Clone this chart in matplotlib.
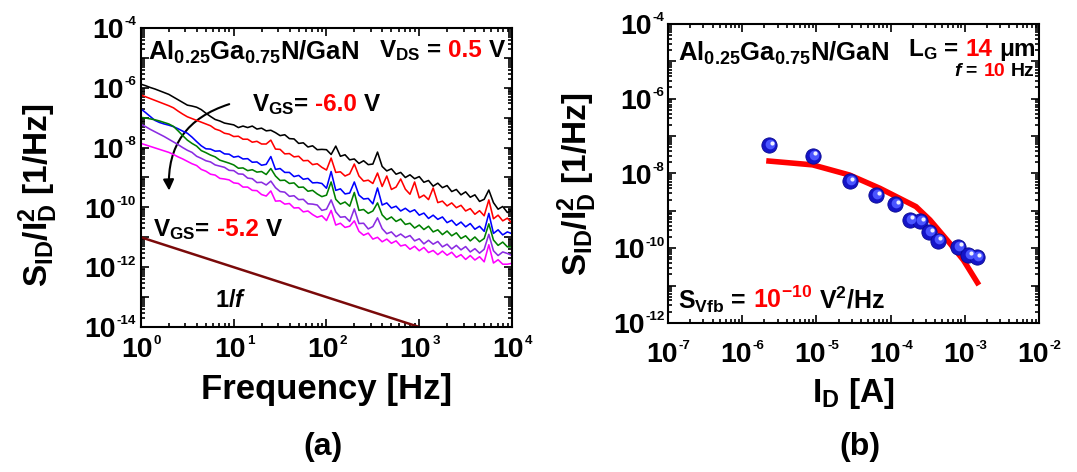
import numpy as np
import matplotlib
matplotlib.use('Agg')
import matplotlib.pyplot as plt
import matplotlib.transforms as mtransforms
from matplotlib.ticker import LogLocator, NullFormatter
from matplotlib.offsetbox import TextArea, HPacker, AnnotationBbox
from matplotlib.patches import FancyArrowPatch

plt.rcParams['font.family'] = 'Liberation Sans'
plt.rcParams['font.weight'] = 'bold'
plt.rcParams['mathtext.fontset'] = 'custom'
plt.rcParams['mathtext.rm'] = 'Liberation Sans:bold'
plt.rcParams['mathtext.bf'] = 'Liberation Sans:bold'
plt.rcParams['mathtext.it'] = 'Liberation Sans:italic:bold'
plt.rcParams['mathtext.default'] = 'regular'
plt.rcParams['axes.linewidth'] = 1.5

# ---- (a) noise spectra, log10 values ----
LOG_F = [0.00, 0.05, 0.10, 0.15, 0.20, 0.25, 0.30, 0.35, 0.40, 0.45,
         0.50, 0.55, 0.60, 0.65, 0.70, 0.75, 0.80, 0.85, 0.90, 0.95,
         1.00, 1.05, 1.10, 1.15, 1.20, 1.25, 1.30, 1.35, 1.40, 1.45,
         1.50, 1.55, 1.60, 1.65, 1.70, 1.75, 1.80, 1.85, 1.90, 1.95,
         2.00, 2.05, 2.10, 2.15, 2.20, 2.25, 2.30, 2.35, 2.40, 2.45,
         2.50, 2.55, 2.60, 2.65, 2.70, 2.75, 2.80, 2.85, 2.90, 2.95,
         3.00, 3.05, 3.10, 3.15, 3.20, 3.25, 3.30, 3.35, 3.40, 3.45,
         3.50, 3.55, 3.60, 3.65, 3.70, 3.75, 3.80, 3.85, 3.90, 3.95, 4.00]

LOG_S_60 = [-5.88, -5.93, -5.99, -6.04, -6.10, -6.16, -6.22, -6.31, -6.40, -6.49,
            -6.58, -6.61, -6.65, -6.73, -6.85, -6.96, -7.06, -7.11, -7.18, -7.21,
            -7.24, -7.33, -7.28, -7.33, -7.28, -7.38, -7.35, -7.44, -7.42, -7.50,
            -7.60, -7.57, -7.70, -7.71, -7.86, -7.84, -7.98, -7.94, -8.07, -8.06,
            -8.07, -8.23, -7.95, -8.29, -8.24, -8.41, -8.38, -8.53, -8.44, -8.57,
            -8.55, -8.15, -8.63, -8.78, -8.71, -8.89, -8.83, -9.00, -8.91, -9.04,
            -8.97, -9.16, -9.10, -9.29, -9.19, -9.34, -9.27, -9.47, -9.40, -9.58,
            -9.48, -9.66, -9.58, -9.80, -9.73, -9.42, -9.84, -10.06, -9.97, -10.17, -10.10]
LOG_S_2 = [-6.24, -6.30, -6.36, -6.42, -6.48, -6.54, -6.60, -6.67, -6.78, -6.88,
           -6.97, -7.03, -7.09, -7.15, -7.21, -7.27, -7.38, -7.43, -7.52, -7.55,
           -7.63, -7.62, -7.72, -7.72, -7.82, -7.79, -7.88, -7.88, -7.75, -8.05,
           -8.06, -8.21, -8.20, -8.31, -8.29, -8.44, -8.43, -8.57, -8.54, -8.66,
           -8.75, -8.35, -8.83, -8.81, -8.95, -8.88, -8.55, -8.95, -9.12, -9.09,
           -9.20, -8.85, -9.30, -8.95, -9.40, -9.32, -9.05, -9.39, -9.56, -9.15,
           -9.68, -9.59, -9.74, -9.35, -9.84, -9.79, -9.95, -9.85, -10.01, -9.93,
           -10.12, -10.04, -10.23, -10.11, -10.28, -9.75, -10.38, -10.26, -10.45, -10.36, -10.53]
LOG_S_3 = [-6.71, -6.83, -6.96, -7.09, -7.16, -7.21, -7.25, -7.30, -7.37, -7.45,
           -7.52, -7.65, -7.80, -7.94, -8.04, -8.05, -8.12, -8.11, -8.21, -8.22,
           -8.32, -8.29, -8.38, -8.37, -8.49, -8.48, -8.59, -8.56, -8.30, -8.73,
           -8.70, -8.83, -8.83, -8.97, -8.93, -9.06, -9.03, -9.18, -9.17, -9.20,
           -9.36, -8.80, -9.43, -9.38, -9.55, -9.52, -9.15, -9.59, -9.72, -9.70,
           -9.88, -9.35, -9.92, -9.85, -10.02, -9.96, -10.12, -10.03, -10.15, -10.08,
           -10.26, -10.19, -10.37, -10.26, -10.40, -10.32, -10.51, -10.43, -10.60, -10.49,
           -10.65, -10.54, -10.73, -10.63, -10.80, -10.20, -10.87, -10.75, -10.92, -10.82, -10.88]
LOG_S_4 = [-6.99, -7.01, -7.04, -7.07, -7.11, -7.16, -7.21, -7.29, -7.44, -7.60,
           -7.75, -7.86, -7.95, -8.10, -8.17, -8.25, -8.31, -8.42, -8.47, -8.52,
           -8.58, -8.69, -8.68, -8.77, -8.74, -8.82, -8.80, -8.90, -8.70, -8.95,
           -9.10, -9.09, -9.20, -9.18, -9.33, -9.32, -9.46, -9.43, -9.55, -9.64,
           -9.59, -9.15, -9.73, -9.89, -9.82, -9.96, -9.50, -10.10, -10.07, -10.20,
           -10.12, -9.85, -10.25, -10.41, -10.32, -10.47, -10.39, -10.57, -10.53, -10.69,
           -10.59, -10.74, -10.63, -10.82, -10.75, -10.91, -10.79, -10.95, -10.85, -11.04,
           -10.95, -11.12, -10.99, -11.15, -11.04, -10.55, -11.09, -11.27, -11.16, -11.32, -11.32]
LOG_S_5 = [-7.22, -7.30, -7.39, -7.47, -7.55, -7.63, -7.72, -7.81, -7.90, -8.00,
           -8.09, -8.16, -8.29, -8.36, -8.44, -8.48, -8.58, -8.62, -8.66, -8.76,
           -8.77, -8.88, -8.89, -9.02, -9.04, -9.17, -9.16, -9.25, -9.12, -9.34,
           -9.47, -9.49, -9.63, -9.61, -9.74, -9.73, -9.88, -9.89, -9.92, -10.10,
           -10.06, -9.75, -10.15, -10.33, -10.31, -10.47, -10.05, -10.54, -10.53, -10.72,
           -10.64, -10.35, -10.71, -10.88, -10.82, -10.98, -10.89, -11.01, -10.94, -11.12,
           -11.05, -11.22, -11.10, -11.23, -11.14, -11.32, -11.23, -11.39, -11.27, -11.42,
           -11.31, -11.49, -11.38, -11.53, -11.40, -10.90, -11.45, -11.61, -11.49, -11.54, -11.61]
LOG_S_52 = [-7.86, -7.91, -7.96, -8.01, -8.06, -8.11, -8.16, -8.23, -8.31, -8.38,
            -8.46, -8.54, -8.60, -8.73, -8.79, -8.89, -8.92, -9.03, -9.05, -9.08,
            -9.18, -9.20, -9.32, -9.32, -9.43, -9.44, -9.57, -9.62, -9.45, -9.79,
            -9.78, -9.89, -9.87, -10.02, -10.01, -10.15, -10.12, -10.24, -10.33, -10.28,
            -10.44, -10.10, -10.59, -10.53, -10.67, -10.63, -10.45, -10.80, -10.93, -10.86,
            -11.06, -11.00, -11.15, -11.06, -11.20, -11.12, -11.29, -11.25, -11.40, -11.30,
            -11.45, -11.34, -11.51, -11.44, -11.58, -11.46, -11.60, -11.50, -11.67, -11.58,
            -11.74, -11.61, -11.76, -11.65, -11.82, -11.25, -11.86, -11.75, -11.90, -11.90, -11.87]
SPECTRA = [LOG_S_60, LOG_S_2, LOG_S_3, LOG_S_4, LOG_S_5, LOG_S_52]
SPECTRA_COLORS = ['#000000', '#ff0000', '#0000ff', '#008000', '#8a2be2', '#ff00ff']

ONE_F_HZ = [1.0, 1e3]
ONE_F_PSD = [1e-11, 1e-14]

# ---- (b) noise vs drain current ----
ID_A = [2.3e-6, 8.9e-6, 2.8e-5, 6.4e-5, 1.15e-4, 1.8e-4, 2.5e-4, 3.3e-4,
        4.3e-4, 8.2e-4, 1.12e-3, 1.45e-3]
SID_NORM = [5.8e-8, 3.0e-8, 6.2e-9, 2.7e-9, 1.55e-9, 5.8e-10, 5.3e-10, 2.7e-10,
            1.6e-10, 1.1e-10, 6.7e-11, 5.7e-11]
FIT_ID = [2.3e-6, 8.9e-6, 2.8e-5, 7.2e-5, 2.2e-4, 3.4e-4, 6.3e-4, 9.6e-4, 1.48e-3]
FIT_S = [2.15e-8, 1.7e-8, 9.1e-9, 4.0e-9, 1.3e-9, 5.7e-10, 1.35e-10, 4.8e-11, 1.2e-11]

# tick label exponents
A_X_EXP = [0, 1, 2, 3, 4]
A_Y_EXP = [-14, -12, -10, -8, -6, -4]
B_X_EXP = [-7, -6, -5, -4, -3, -2]
B_Y_EXP = [-12, -10, -8, -6, -4]

RED = '#ff0000'
TICK_FS = 20.5


def style(ax):
    ax.set_xscale('log')
    ax.set_yscale('log')
    for axis in (ax.xaxis, ax.yaxis):
        axis.set_major_locator(LogLocator(base=10, numticks=40))
        axis.set_minor_locator(LogLocator(base=10, subs=np.arange(2, 10), numticks=40))
        axis.set_major_formatter(NullFormatter())
        axis.set_minor_formatter(NullFormatter())
    ax.tick_params(which='both', direction='in', top=True, right=True, width=1.2)
    ax.tick_params(which='major', length=6)
    ax.tick_params(which='minor', length=3)


def log_labels(ax, axis, exps, pad, size=TICK_FS):
    # "10" plus a small raised exponent, like the original figure
    small = size * 0.47
    w10 = 1.112 * size
    for e in exps:
        sup = '%d' % e
        wsup = (0.333 * (e < 0) + 0.556 * len(str(abs(e)))) * small
        kw = dict(textcoords='offset points', va='baseline', fontweight='bold',
                  annotation_clip=False)
        if axis == 'x':
            xy, xyc = (10.0 ** e, 0), ('data', 'axes fraction')
            x0 = -(w10 + wsup) / 2
            ax.annotate('10', xy, xycoords=xyc, xytext=(x0, -pad), ha='left',
                        fontsize=size, **kw)
            ax.annotate(sup, xy, xycoords=xyc, xytext=(x0 + w10 + 0.6, -pad + 0.45 * size),
                        ha='left', fontsize=small, **kw)
        else:
            xy, xyc = (0, 10.0 ** e), ('axes fraction', 'data')
            base_y = -0.358 * size
            ax.annotate(sup, xy, xycoords=xyc, xytext=(-pad, base_y + 0.45 * size),
                        ha='right', fontsize=small, **kw)
            ax.annotate('10', xy, xycoords=xyc, xytext=(-pad - wsup - 0.6, base_y),
                        ha='right', fontsize=size, **kw)


def rich(ax, x, y, parts, size, align=(0, 0), sep=5):
    boxes = [TextArea(s, textprops=dict(color=c, fontsize=size, fontweight='bold'))
             for s, c in parts]
    pack = HPacker(children=boxes, align='baseline', pad=0, sep=sep)
    ab = AnnotationBbox(pack, (x, y), xycoords='axes fraction', frameon=False,
                        box_alignment=align, pad=0)
    ax.add_artist(ab)


fig = plt.figure(figsize=(10.77, 4.72), dpi=100)
ax1 = fig.add_axes([0.1309, 0.3072, 0.3445, 0.6335])
ax2 = fig.add_axes([0.6202, 0.3157, 0.3445, 0.6335])

# ---------------- panel (a) ----------------
freq = 10 ** np.array(LOG_F)
for vals, col in zip(SPECTRA, SPECTRA_COLORS):
    ax1.plot(freq, 10 ** np.array(vals), color=col, lw=1.15)
ax1.plot(ONE_F_HZ, ONE_F_PSD, color='#7a0a0a', lw=1.8)
style(ax1)
ax1.set_xlim(1, 1e4)
ax1.set_ylim(1e-14, 1e-4)
log_labels(ax1, 'x', A_X_EXP, 21.5)
log_labels(ax1, 'y', A_Y_EXP, 3.5)

arrow = FancyArrowPatch((10 ** 0.98, 10 ** -6.52), (10 ** 0.305, 10 ** -9.53),
                        connectionstyle='arc3,rad=0.4', arrowstyle='-|>',
                        mutation_scale=16, lw=1.5, color='k',
                        transform=ax1.transData)
ax1.add_patch(arrow)

rich(ax1, 0.019, 0.872, [('Al$_{0.25}$Ga$_{0.75}$N/GaN', 'k')], 18.5)
rich(ax1, 0.981, 0.883, [('V$_{DS}$ =', 'k'), ('0.5', RED), ('V', 'k')], 17.5,
     align=(1, 0))
rich(ax1, 0.298, 0.703, [('V$_{GS}$=', 'k'), ('-6.0', RED), ('V', 'k')], 17.5)
rich(ax1, 0.033, 0.285, [('V$_{GS}$=', 'k'), ('-5.2', RED), ('V', 'k')], 17.5)
ax1.text(0.20, 0.068, r'1/$\mathit{f}$', transform=ax1.transAxes, fontsize=17,
         fontweight='bold', va='baseline')

ax1.set_xlabel('Frequency [Hz]', fontsize=25, fontweight='bold')
ax1.xaxis.set_label_coords(0.5, -0.155)
ax1.set_ylabel(r'S$_{ID}$/I$_D^2$ [1/Hz]', fontsize=24, fontweight='bold')
ax1.yaxis.set_label_coords(-0.218, 0.44)

# ---------------- panel (b) ----------------
ax2.plot(FIT_ID, FIT_S, color=RED, lw=4)
ax2.plot(ID_A, SID_NORM, 'o', ms=11, mfc='#1414c8', mec='#0a0a90', mew=0.6)
off1 = mtransforms.offset_copy(ax2.transData, fig=fig, x=0.8, y=0.8, units='points')
ax2.plot(ID_A, SID_NORM, 'o', ms=7, mfc='#4a55ff', mec='none', transform=off1)
off2 = mtransforms.offset_copy(ax2.transData, fig=fig, x=1.8, y=1.6, units='points')
ax2.plot(ID_A, SID_NORM, 'o', ms=3, mfc='#eef0ff', mec='none', transform=off2)
style(ax2)
ax2.set_xlim(1e-7, 1e-2)
ax2.set_ylim(1e-12, 1e-4)
log_labels(ax2, 'x', B_X_EXP, 28)
log_labels(ax2, 'y', B_Y_EXP, 2.5)

rich(ax2, 0.026, 0.857, [('Al$_{0.25}$Ga$_{0.75}$N/GaN', 'k')], 18.5)
rich(ax2, 0.991, 0.874, [('L$_G$ =', 'k'), ('14', RED), ('\u03bcm', 'k')], 17.5,
     align=(1, 0))
rich(ax2, 0.988, 0.813, [('$\\mathit{f}$ =', 'k'), ('10', RED), ('Hz', 'k')], 14,
     align=(1, 0), sep=4)
rich(ax2, 0.026, 0.028, [('S$_{Vfb}$ =', 'k'), ('10$^{-10}$', RED), ('V$^2$/Hz', 'k')], 18)

ax2.set_xlabel(r'I$_D$ [A]', fontsize=24, fontweight='bold')
ax2.xaxis.set_label_coords(0.5, -0.177)
ax2.set_ylabel(r'S$_{ID}$/I$_D^2$ [1/Hz]', fontsize=24, fontweight='bold')
ax2.yaxis.set_label_coords(-0.186, 0.465)

fig.text(323 / 1077, 1 - 447 / 472, '(a)', ha='center', va='center',
         fontsize=23, fontweight='bold')
fig.text(860 / 1077, 1 - 447 / 472, '(b)', ha='center', va='center',
         fontsize=23, fontweight='bold')

fig.savefig('out.png', dpi=100)
